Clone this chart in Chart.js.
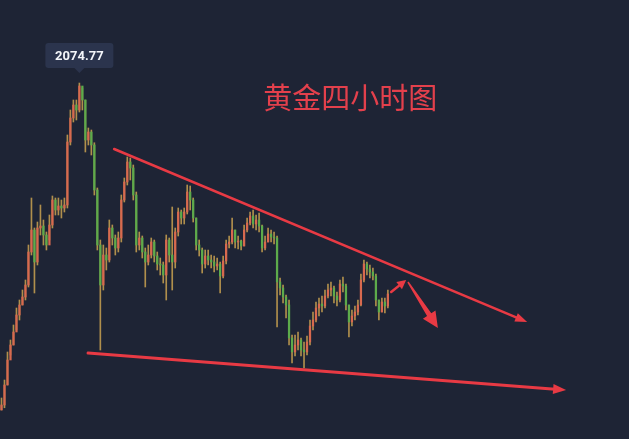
<!DOCTYPE html>
<html>
<head>
<meta charset="utf-8">
<script src="https://cdn.jsdelivr.net/npm/chart.js@4.4.1/dist/chart.umd.min.js"></script>
<style>
html, body { margin: 0; padding: 0; background: #1e2435; }
#wrap { width: 629px; height: 439px; }
</style>
</head>
<body>
<div id="wrap"><canvas id="c"></canvas></div>
<script>
"use strict";
// 4h gold candles (open = previous close)
const firstOpen = 1813.2;
const closes = [1817.2,1833.2,1853.2,1865.2,1875.6,1889.2,1897.2,1903.6,1913.2,1939.6,
1957.2,1931.6,1958.8,1960.4,1953.2,1945.2,1961.2,1981.2,1973.2,1976.4,
1974.8,1977.2,2027.6,2046.8,2057.2,2053.2,2072.4,2061.2,2029.2,2035.6,
2025.2,1989.2,1945.2,1913.2,1937.2,1933.2,1958.8,1950.8,1942.8,1950.8,
1981.2,1995.6,2011.6,2006.8,1985.2,1945.2,1950.8,1939.6,1931.6,1937.2,
1947.6,1936.4,1930.0,1929.2,1921.2,1949.2,1937.2,1931.6,1955.6,1971.6,
1966.8,1971.6,1987.6,1981.2,1966.8,1945.2,1941.2,1930.0,1936.4,1933.2,
1931.6,1928.4,1930.0,1920.4,1932.4,1946.0,1947.6,1957.2,1947.6,1948.4,
1944.4,1957.2,1962.8,1968.4,1962.0,1965.2,1960.4,1942.8,1947.6,1954.0,
1951.6,1950.8,1915.6,1910.8,1903.6,1897.2,1870.8,1859.6,1865.2,1869.2,
1861.2,1859.6,1867.6,1880.4,1885.2,1894.8,1898.0,1896.4,1904.4,1909.2,
1910.8,1904.4,1901.2,1914.0,1912.4,1897.2,1883.6,1888.4,1891.6,1897.2,
1917.2,1930.0,1926.0,1923.6,1920.4,1901.2,1891.6,1899.6,1896.4,1906.0];
const highs = [1822.8,1837.2,1859.6,1869.2,1881.2,1894.8,1901.2,1909.2,1917.2,1945.2,
1982.8,1958.8,1963.6,1977.2,1965.2,1955.6,1969.2,1984.4,1982.8,1982.8,
1981.2,1982.8,2033.2,2053.2,2061.2,2061.2,2074.77,2070.8,2061.2,2038.8,
2037.2,2027.0,1990.8,1949.2,1945.2,1942.8,1965.2,1961.2,1953.2,1955.6,
1985.2,1998.8,2015.6,2014.8,2009.2,1987.6,1955.6,1952.4,1942.8,1945.2,
1950.8,1949.2,1939.6,1934.8,1931.6,1953.2,1950.8,1975.6,1958.8,1974.8,
1973.2,1974.8,1993.2,1992.4,1982.8,1966.8,1949.2,1942.8,1941.2,1941.2,
1937.2,1936.4,1934.8,1931.6,1936.4,1949.2,1952.4,1966.8,1957.2,1952.4,
1949.2,1961.2,1966.8,1971.6,1973.2,1969.2,1970.8,1961.2,1952.4,1958.8,
1957.2,1955.6,1952.4,1918.8,1913.2,1905.2,1901.2,1873.2,1873.2,1875.6,
1870.8,1867.6,1872.4,1885.2,1891.6,1899.6,1902.8,1904.4,1909.2,1914.0,
1915.6,1912.4,1907.6,1917.2,1919.6,1914.0,1897.2,1893.2,1896.4,1901.2,
1922.0,1933.2,1931.6,1929.2,1926.8,1922.0,1901.2,1902.8,1902.8,1909.2];
const lows = [1813.2,1815.0,1833.2,1857.2,1865.2,1877.2,1885.2,1897.2,1901.2,1911.6,
1937.2,1906.8,1929.2,1953.2,1945.2,1941.2,1949.2,1958.8,1969.2,1969.2,
1966.8,1971.6,1974.8,2025.2,2043.6,2045.2,2051.6,2053.2,2019.6,2025.2,
2017.2,1985.2,1941.2,1861.2,1909.2,1925.2,1931.6,1945.2,1937.2,1939.6,
1947.6,1979.6,1993.2,1997.2,1981.2,1939.6,1941.2,1934.8,1911.6,1929.2,
1934.8,1931.6,1925.2,1921.2,1914.8,1901.2,1931.6,1909.2,1926.8,1952.4,
1962.0,1962.0,1970.0,1973.2,1963.6,1941.2,1936.4,1922.8,1926.8,1929.2,
1926.8,1923.6,1925.2,1906.8,1918.8,1930.0,1942.8,1946.0,1942.8,1942.0,
1941.2,1944.4,1955.6,1961.2,1958.8,1957.2,1955.6,1939.6,1941.2,1947.6,
1947.6,1946.0,1879.6,1905.2,1898.8,1886.8,1865.2,1850.8,1856.4,1861.2,
1856.4,1846.8,1857.2,1865.2,1877.2,1883.6,1888.4,1891.6,1894.8,1902.8,
1904.4,1898.8,1896.4,1899.6,1907.6,1893.2,1871.6,1880.4,1885.2,1889.2,
1896.4,1915.6,1921.2,1918.8,1917.2,1896.4,1885.2,1891.6,1890.8,1894.8];
const slotCount = 210;          // empty slots to the right leave room for the drawings
const priceMin = 1790, priceMax = 2141.2;

const titleText = "黄金四小时图";
const titlePos = [116.4, 2062.8];
// drawings, as [candle index, price]
const upperLine = [[37.6, 2022.0], [175.5, 1883.6]];
const lowerLine = [[28.9, 1858.8], [188.5, 1829.2]];
const smallArrow = [[130.1, 1907.6], [135.1, 1917.2]];
const downArrow = [[135.7, 1915.6], [145.7, 1878.8]];

const opens = [firstOpen].concat(closes.slice(0, -1));
const labels = [];
for (let i = 0; i < slotCount; i++) labels.push(String(i));

const upColor = "#d8694f", downColor = "#5dab4b", wickColor = "#b08f4c", markRed = "#e83a44";
function candleColor(ctx) {
    const i = ctx.dataIndex;
    return closes[i] >= opens[i] ? upColor : downColor;
}

function arrow(ctx, a, b, lw, hl, hw) {
    const ang = Math.atan2(b[1] - a[1], b[0] - a[0]);
    const c = Math.cos(ang), s = Math.sin(ang);
    const bx = b[0] - c * hl, by = b[1] - s * hl;
    ctx.lineWidth = lw;
    ctx.lineCap = "round";
    ctx.beginPath(); ctx.moveTo(a[0], a[1]); ctx.lineTo(bx + c * 2, by + s * 2); ctx.stroke();
    ctx.beginPath();
    ctx.moveTo(b[0], b[1]);
    ctx.lineTo(bx + s * hw / 2, by - c * hw / 2);
    ctx.lineTo(bx - s * hw / 2, by + c * hw / 2);
    ctx.closePath(); ctx.fill();
}

function fatArrow(ctx, a, b, w0, w1, hl, hw) {
    const ang = Math.atan2(b[1] - a[1], b[0] - a[0]);
    const c = Math.cos(ang), s = Math.sin(ang);
    const bx = b[0] - c * hl, by = b[1] - s * hl;
    ctx.beginPath();
    ctx.moveTo(a[0] + s * w0 / 2, a[1] - c * w0 / 2);
    ctx.lineTo(bx + s * w1 / 2, by - c * w1 / 2);
    ctx.lineTo(bx + s * hw / 2, by - c * hw / 2);
    ctx.lineTo(b[0], b[1]);
    ctx.lineTo(bx - s * hw / 2, by + c * hw / 2);
    ctx.lineTo(bx - s * w1 / 2, by + c * w1 / 2);
    ctx.lineTo(a[0] - s * w0 / 2, a[1] + c * w0 / 2);
    ctx.closePath(); ctx.fill();
}

const extras = {
    id: "extras",
    afterDraw(chart) {
        const ctx = chart.ctx, sx = chart.scales.x, sy = chart.scales.y;
        const px = p => [sx.getPixelForValue(p[0]), sy.getPixelForValue(p[1])];
        ctx.save();
        ctx.strokeStyle = markRed;
        ctx.fillStyle = markRed;
        arrow(ctx, px(upperLine[0]), px(upperLine[1]), 2.5, 12, 9);
        arrow(ctx, px(lowerLine[0]), px(lowerLine[1]), 3, 13, 10);
        arrow(ctx, px(smallArrow[0]), px(smallArrow[1]), 2.5, 9, 9);
        fatArrow(ctx, px(downArrow[0]), px(downArrow[1]), 1.5, 5, 16, 15);

        // title
        const t = px(titlePos);
        ctx.font = "29px 'Noto Sans CJK SC'";
        ctx.textAlign = "center";
        ctx.textBaseline = "middle";
        ctx.fillStyle = "#e3404c";
        ctx.fillText(titleText, t[0], t[1]);

        // peak label
        const top = Math.max(...highs);
        const pi = highs.indexOf(top);
        const cx = sx.getPixelForValue(pi), cy = sy.getPixelForValue(top);
        const w = 68, h = 25, bottom = cy - 15;
        ctx.fillStyle = "#2b344d";
        ctx.beginPath();
        ctx.roundRect(cx - w / 2, bottom - h, w, h, 3);
        ctx.fill();
        ctx.beginPath();
        ctx.moveTo(cx - 5, bottom); ctx.lineTo(cx + 5, bottom); ctx.lineTo(cx, bottom + 5);
        ctx.closePath(); ctx.fill();
        ctx.fillStyle = "#f4f6fa";
        ctx.font = "bold 13px Roboto";
        ctx.fillText(top.toFixed(2), cx, bottom - h / 2 + 1);
        ctx.restore();
    }
};

new Chart(document.getElementById("c"), {
    type: "bar",
    data: {
        labels: labels,
        datasets: [
            {
                data: lows.map((l, i) => [l, highs[i]]),
                backgroundColor: wickColor,
                barThickness: 1,
                grouped: false,
                order: 2
            },
            {
                data: closes.map((c, i) => [opens[i], c]),
                backgroundColor: candleColor,
                barThickness: 1.6,
                grouped: false,
                order: 1
            }
        ]
    },
    options: {
        responsive: true,
        maintainAspectRatio: false,
        animation: false,
        layout: { padding: 0 },
        plugins: { legend: { display: false }, tooltip: { enabled: false } },
        scales: {
            x: { display: false },
            y: { display: false, min: priceMin, max: priceMax }
        }
    },
    plugins: [extras]
});
</script>
</body>
</html>
